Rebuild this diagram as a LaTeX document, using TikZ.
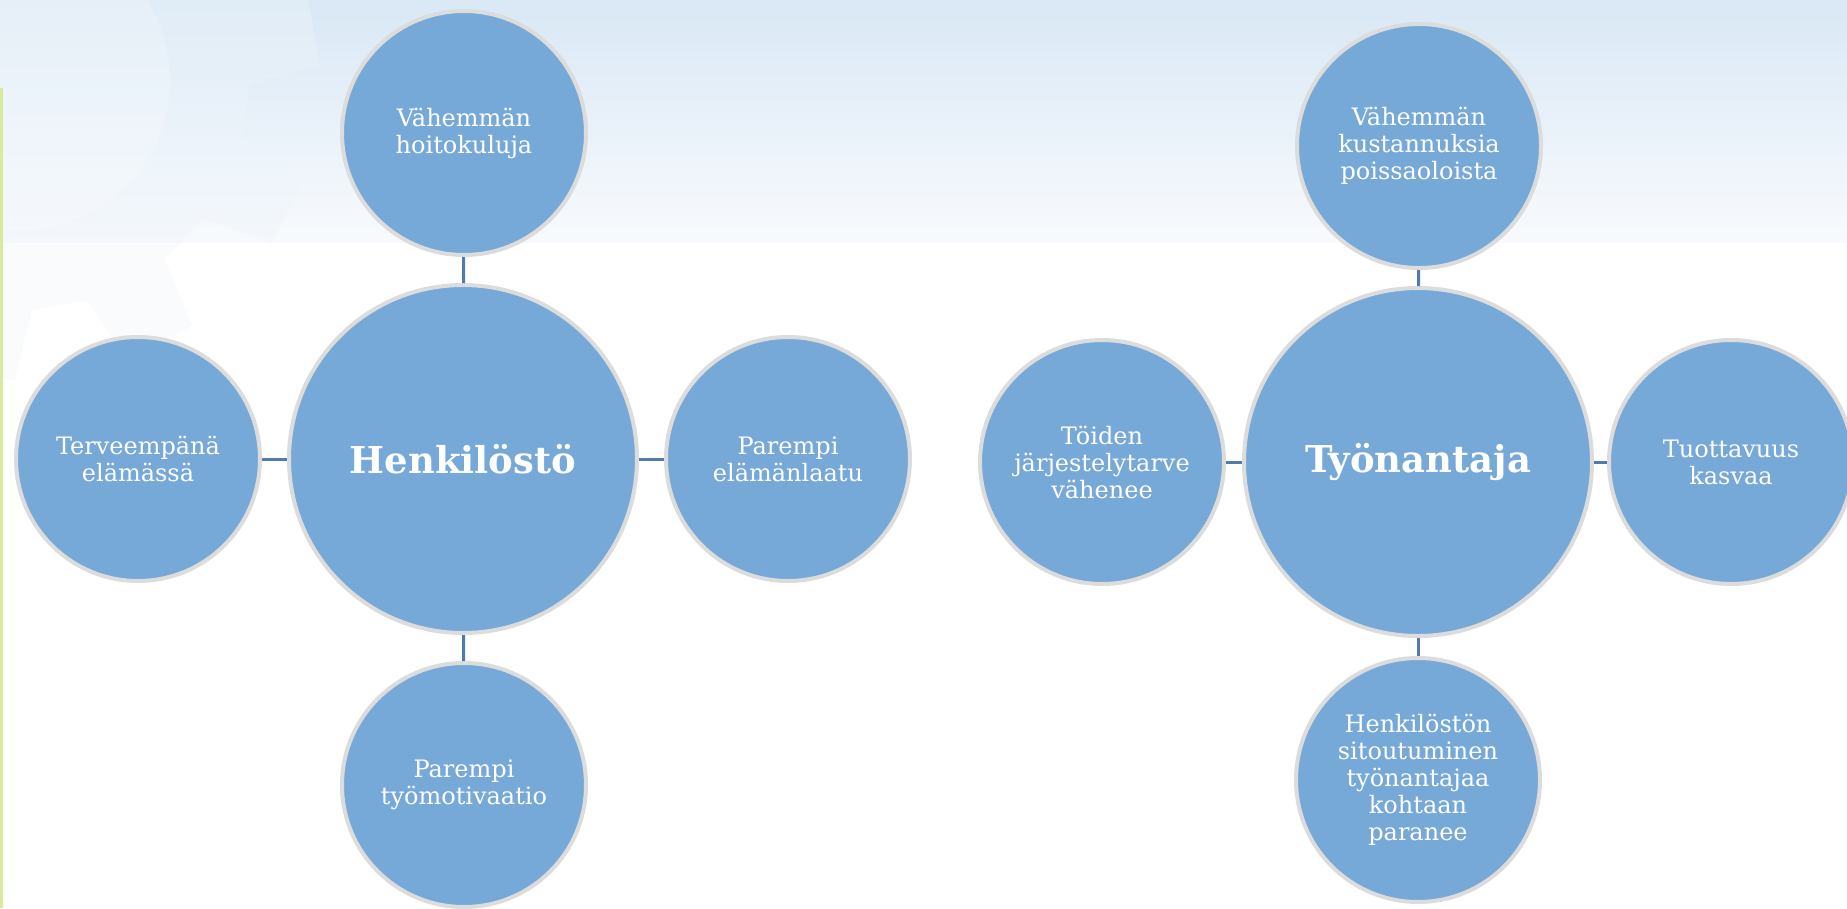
\documentclass[tikz,border=0pt]{standalone}
\usepackage{fontspec}
\setmainfont{DejaVu Serif}
\usetikzlibrary{calc}
\definecolor{bubble}{HTML}{76A9D8}
\definecolor{rim}{HTML}{DCDCDC}
\definecolor{link}{HTML}{4F7CAC}
\definecolor{bandtop}{HTML}{D9E8F5}
\definecolor{bandbot}{HTML}{F8FAFD}
\definecolor{gearcol}{HTML}{EEF5FB}
\definecolor{edgegreen}{HTML}{D8EA9C}
\tikzset{
  small/.style={circle, fill=bubble, draw=rim, line width=4pt, minimum size=244pt, inner sep=0pt,
    text=white, align=center, font=\fontsize{24}{27}\selectfont},
  big/.style={circle, fill=bubble, draw=rim, line width=4pt, minimum size=348pt, inner sep=0pt,
    text=white, align=center, font=\fontsize{37}{44}\selectfont\bfseries},
  conn/.style={draw=link, line width=3pt}
}
\begin{document}
\begin{tikzpicture}[x=1pt,y=-1pt]
\useasboundingbox (0,0) rectangle (1847,908);
\clip (0,0) rectangle (1847,908);
\fill[white] (0,0) rectangle (1847,908);
\shade[top color=bandtop, bottom color=bandbot] (0,0) rectangle (1847,242);
% faint gear
\coordinate (g) at (20,80);
\fill[gearcol,opacity=0.35] ($(g)+(-21:230)$)
  \foreach \a in {-10,26,...,314} {
    -- ($(g)+(\a-11:230)$) -- ($(g)+(\a-7:300)$) -- ($(g)+(\a+7:300)$) -- ($(g)+(\a+11:230)$)
  } -- cycle;
\fill[white,opacity=0.2] (g) circle[radius=150];
\fill[edgegreen] (0,88) rectangle (2.5,908);

% left group
\node[big]   (H)  at (463,459) {Henkilöstö};
\node[small] (Ht) at (464,133) {Vähemmän\\hoitokuluja};
\node[small] (Hl) at (138,459) {Terveempänä\\elämässä};
\node[small] (Hr) at (788,459) {Parempi\\elämänlaatu};
\node[small] (Hb) at (464,785) {Parempi\\työmotivaatio};
\draw[conn] (H) -- (Ht);
\draw[conn] (H) -- (Hl);
\draw[conn] (H) -- (Hr);
\draw[conn] (H) -- (Hb);

% right group
\node[big]   (T)  at (1418,462) {Työnantaja};
\node[small] (Tt) at (1419,146) {Vähemmän\\kustannuksia\\poissaoloista};
\node[small] (Tl) at (1102,462) {Töiden\\järjestelytarve\\vähenee};
\node[small] (Tr) at (1731,462) {Tuottavuus\\kasvaa};
\node[small] (Tb) at (1418,780) {Henkilöstön\\sitoutuminen\\työnantajaa\\kohtaan\\paranee};
\draw[conn] (T) -- (Tt);
\draw[conn] (T) -- (Tl);
\draw[conn] (T) -- (Tr);
\draw[conn] (T) -- (Tb);
\end{tikzpicture}
\end{document}
